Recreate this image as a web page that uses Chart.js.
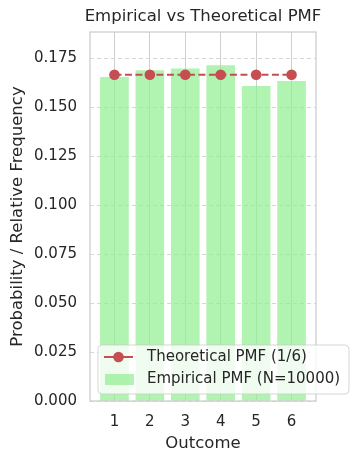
<!DOCTYPE html>
<html>
<head>
<meta charset="utf-8">
<script src="https://cdn.jsdelivr.net/npm/chart.js@4.4.0/dist/chart.umd.min.js"></script>
<style>
  html, body { margin: 0; padding: 0; background: #fff; }
  #wrap { width: 358px; height: 463px; }
</style>
</head>
<body>
<div id="wrap"><canvas id="pmfChart" width="358" height="463"></canvas></div>
<script>
const outcomes = [1, 2, 3, 4, 5, 6];
const empirical = [0.1653, 0.1688, 0.1697, 0.1714, 0.1607, 0.1633];
const theoretical = [0.16667, 0.16667, 0.16667, 0.16667, 0.16667, 0.16667];
const yTicks = [0, 0.025, 0.05, 0.075, 0.1, 0.125, 0.15, 0.175];

const FONT = 'DejaVu Sans';
const TEXT = '#262626';
const RED = '#C44E52';
const GREEN = 'rgba(144, 238, 144, 0.7)';
const TITLE = 'Empirical vs Theoretical PMF';

// frame, title over the plot area, and legend inside lower right
const framePlugin = {
  id: 'frame',
  afterDatasetsDraw(chart) {
    const { ctx, chartArea: a } = chart;
    ctx.save();
    ctx.strokeStyle = '#cccccc';
    ctx.lineWidth = 1.25;
    ctx.strokeRect(a.left, a.top, a.right - a.left, a.bottom - a.top);
    ctx.restore();
  },
  afterDraw(chart) {
    const { ctx, chartArea: a } = chart;
    ctx.save();
    ctx.fillStyle = TEXT;
    ctx.font = '16.5px "' + FONT + '"';
    ctx.textAlign = 'center';
    ctx.textBaseline = 'middle';
    ctx.fillText(TITLE, (a.left + a.right) / 2, 17);

    // legend box
    const x = 98, y = 345, w = 251, h = 49, r = 4;
    ctx.beginPath();
    ctx.roundRect(x, y, w, h, r);
    ctx.fillStyle = 'rgba(255,255,255,0.8)';
    ctx.fill();
    ctx.strokeStyle = 'rgba(204,204,204,0.8)';
    ctx.lineWidth = 1;
    ctx.stroke();

    // theoretical entry
    ctx.strokeStyle = RED;
    ctx.lineWidth = 2;
    ctx.beginPath();
    ctx.moveTo(104, 357);
    ctx.lineTo(133, 357);
    ctx.stroke();
    ctx.fillStyle = RED;
    ctx.beginPath();
    ctx.arc(118.5, 357, 5.3, 0, Math.PI * 2);
    ctx.fill();

    // empirical entry
    ctx.fillStyle = GREEN;
    ctx.fillRect(105, 374, 29, 11);

    ctx.fillStyle = TEXT;
    ctx.font = '15px "' + FONT + '"';
    ctx.textAlign = 'left';
    ctx.fillText(chart.data.datasets[0].label, 147, 357);
    ctx.fillText(chart.data.datasets[1].label, 147, 379.5);
    ctx.restore();
  }
};

new Chart(document.getElementById('pmfChart'), {
  data: {
    datasets: [
      {
        type: 'line',
        label: 'Theoretical PMF (1/6)',
        data: outcomes.map((o, i) => ({ x: o, y: theoretical[i] })),
        borderColor: RED,
        backgroundColor: RED,
        borderWidth: 2,
        borderDash: [7, 3.5],
        pointRadius: 5.3,
        pointHoverRadius: 5.3,
        pointBorderWidth: 0,
        fill: false,
        order: 0
      },
      {
        type: 'bar',
        label: 'Empirical PMF (N=10000)',
        data: outcomes.map((o, i) => ({ x: o, y: empirical[i] })),
        backgroundColor: GREEN,
        borderWidth: 0,
        barThickness: 28,
        order: 1
      }
    ]
  },
  options: {
    responsive: false,
    animation: false,
    layout: { padding: { left: 0, right: 42, top: 32, bottom: 0 } },
    plugins: {
      legend: { display: false },
      tooltip: { enabled: false },
      title: { display: false }
    },
    scales: {
      x: {
        type: 'linear',
        min: 0.31,
        max: 6.69,
        offset: false,
        afterBuildTicks: (scale) => { scale.ticks = outcomes.map(v => ({ value: v })); },
        afterFit: (scale) => { scale.height = 62; },
        ticks: {
          color: TEXT,
          font: { family: FONT, size: 15 },
          padding: 12,
          maxRotation: 0,
          autoSkip: false,
          callback: (v) => String(v)
        },
        grid: { color: '#cfcfcf', lineWidth: 1, drawTicks: false, offset: false },
        border: { display: false },
        title: {
          display: true,
          text: 'Outcome',
          color: TEXT,
          font: { family: FONT, size: 16.5 },
          padding: { top: 0, bottom: 9.1 }
        }
      },
      y: {
        type: 'linear',
        min: 0,
        max: 0.1885,
        afterBuildTicks: (scale) => { scale.ticks = yTicks.map(v => ({ value: v })); },
        afterFit: (scale) => { scale.width = 90; },
        ticks: {
          color: TEXT,
          font: { family: FONT, size: 15 },
          padding: 13,
          callback: (v) => v.toFixed(3)
        },
        grid: { color: '#d6d6d6', lineWidth: 1, drawTicks: false },
        border: { display: false, dash: [4, 3] },
        title: {
          display: true,
          text: 'Probability / Relative Frequency',
          color: TEXT,
          font: { family: FONT, size: 16.5 },
          padding: { top: 8.1, bottom: 0 }
        }
      }
    }
  },
  plugins: [framePlugin]
});
</script>
</body>
</html>
